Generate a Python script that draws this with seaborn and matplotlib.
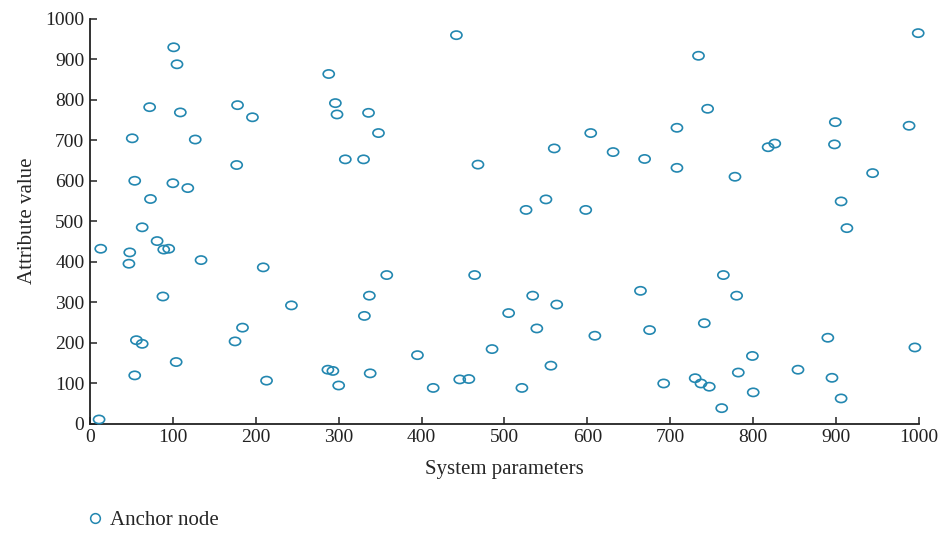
import numpy as np
import pandas as pd
import seaborn as sns
import matplotlib.pyplot as plt
from matplotlib.path import Path
from matplotlib.transforms import Affine2D

# Values
system_params = [
    11, 13, 48, 47, 51, 54, 56, 63, 54, 63, 72, 73, 81, 89, 95, 88, 100, 101, 105, 104,
    109, 118, 127, 134, 177, 178, 175, 184, 196, 209, 213, 243,
    288, 296, 298, 336, 348, 308, 330, 442, 468, 560, 604, 631, 550, 526, 598,
    358, 464, 337, 331, 534, 563, 505, 539, 609, 395, 485, 287, 293, 300, 338,
    414, 446, 457, 521, 556,
    734, 999, 745, 708, 899, 988, 669, 708, 778, 818, 826, 898, 944, 906, 913,
    764, 664, 780, 741, 675, 890, 995, 799, 854, 782, 895, 730, 692, 737, 747,
    800, 906, 762,
]
attribute_values = [
    10, 432, 423, 395, 705, 600, 206, 197, 119, 485, 782, 555, 451, 430, 432, 314, 594, 930, 888, 152,
    769, 582, 702, 404, 639, 787, 203, 237, 757, 386, 106, 292,
    864, 792, 764, 768, 718, 653, 653, 960, 640, 680, 718, 671, 554, 528, 528,
    367, 367, 316, 266, 316, 294, 273, 235, 217, 169, 184, 133, 130, 94, 124,
    88, 109, 110, 88, 143,
    909, 965, 778, 731, 745, 736, 654, 632, 610, 683, 692, 690, 619, 549, 483,
    367, 328, 316, 248, 231, 212, 188, 167, 133, 126, 113, 112, 99, 99, 91,
    77, 62, 38,
]
series_label = "Anchor node"

df = pd.DataFrame({"System parameters": system_params,
                   "Attribute value": attribute_values})

sns.set_theme(style="ticks")
plt.rcParams['font.family'] = ['Liberation Serif', 'DejaVu Serif']

color = '#2387b0'
# slightly flattened ring marker, as in the original
ellipse = Path.unit_circle().transformed(Affine2D().scale(1.35, 1.0))

fig = plt.figure(figsize=(9.4, 5.33), dpi=100)
ax = fig.add_axes([0.0957, 0.2054, 0.882, 0.759])

sns.scatterplot(data=df, x="System parameters", y="Attribute value",
                marker=ellipse, s=64, facecolor='none', edgecolor=color,
                linewidth=1.2, ax=ax, clip_on=False, zorder=3)

ax.set_xlim(0, 1000)
ax.set_ylim(0, 1000)
ax.set_xticks(range(0, 1001, 100))
ax.set_yticks(range(0, 1001, 100))
ax.tick_params(direction='in', length=5, width=1.1, labelsize=14, colors='#222222', pad=4)
for side in ['left', 'bottom']:
    ax.spines[side].set_linewidth(1.3)
    ax.spines[side].set_color('#222222')
sns.despine(ax=ax)
ax.set_xlabel("System parameters", fontsize=15, labelpad=10)
ax.set_ylabel("Attribute value", fontsize=15, labelpad=6)

handle = plt.Line2D([], [], linestyle='none', marker='o', markersize=7,
                    markerfacecolor='none', markeredgecolor=color, markeredgewidth=1.1)
ax.legend([handle], [series_label], loc='upper left', bbox_to_anchor=(-0.019, -0.195),
          frameon=False, fontsize=15, handletextpad=0.1, handlelength=1.2,
          borderaxespad=0)

fig.savefig("out.png", dpi=100)
